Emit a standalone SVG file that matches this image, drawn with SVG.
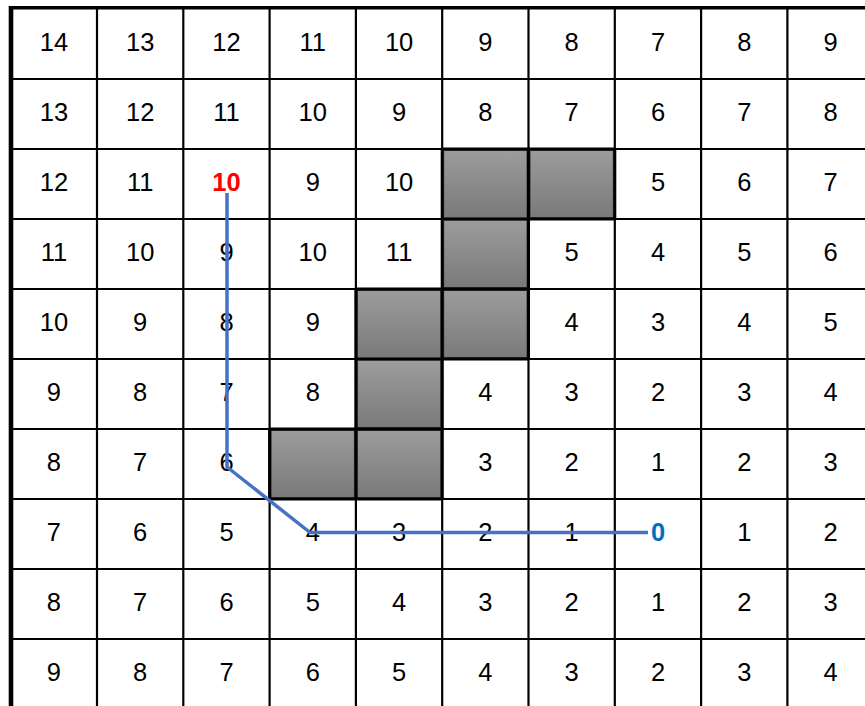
<svg xmlns="http://www.w3.org/2000/svg" width="865" height="706" viewBox="0 0 865 706">
<style>
.g{stroke:#000;stroke-width:2.2;fill:none}
.b{stroke:#000;fill:none}
.blk{fill:url(#gr);stroke:#3a3a3a;stroke-width:1}
.n{font-family:"Liberation Sans",Arial,sans-serif;font-size:25.5px;text-anchor:middle;fill:#000}
.red{fill:#FF0000;font-weight:bold}
.blue{fill:#0070C0;font-weight:bold}
.path{stroke:#4472C4;stroke-width:3.5;fill:none;stroke-linejoin:round}
</style>
<defs>
<linearGradient id="gr" x1="0" y1="0" x2="0" y2="1">
<stop offset="0" stop-color="#9c9c9c"/>
<stop offset="1" stop-color="#7a7a7a"/>
</linearGradient>
</defs>
<rect x="0" y="0" width="865" height="706" fill="#fff"/>
<g id="grid">
<path class="g" d="M97,8V706M183.3,8V706M269.6,8V706M355.9,8V706M442.2,8V706M528.5,8V706M614.8,8V706M701.1,8V706M787.4,8V706"/>
<path class="g" d="M11,79H865M11,149H865M11,219H865M11,289H865M11,359H865M11,429H865M11,499H865M11,569H865M11,639H865"/>
<path class="b" stroke-width="3.4" d="M9,7.7H865"/>
<path class="b" stroke-width="4.6" d="M11,6V706"/>
</g>
<g id="obstacles">
<rect class="blk" x="443.7" y="150.5" width="83.3" height="67"/>
<rect class="blk" x="530" y="150.5" width="83.3" height="67"/>
<rect class="blk" x="443.7" y="220.5" width="83.3" height="67"/>
<rect class="blk" x="357.4" y="290.5" width="83.3" height="67"/>
<rect class="blk" x="443.7" y="290.5" width="83.3" height="67"/>
<rect class="blk" x="357.4" y="360.5" width="83.3" height="67"/>
<rect class="blk" x="271.1" y="430.5" width="83.3" height="67"/>
<rect class="blk" x="357.4" y="430.5" width="83.3" height="67"/>
<path class="b" stroke-width="3" d="M442.2,149H614.8M442.2,149V499M528.5,149V359M614.8,149V219M528.5,219H614.8M355.9,289V499M355.9,289H528.5M269.6,429V499M269.6,429H442.2M269.6,499H442.2M442.2,359H528.5"/>
</g>
<g id="numbers" class="n">
<text x="53.9" y="51">14</text><text x="140.2" y="51">13</text><text x="226.5" y="51">12</text><text x="312.8" y="51">11</text><text x="399.1" y="51">10</text><text x="485.4" y="51">9</text><text x="571.7" y="51">8</text><text x="658" y="51">7</text><text x="744.3" y="51">8</text><text x="830.6" y="51">9</text>
<text x="53.9" y="121">13</text><text x="140.2" y="121">12</text><text x="226.5" y="121">11</text><text x="312.8" y="121">10</text><text x="399.1" y="121">9</text><text x="485.4" y="121">8</text><text x="571.7" y="121">7</text><text x="658" y="121">6</text><text x="744.3" y="121">7</text><text x="830.6" y="121">8</text>
<text x="53.9" y="191">12</text><text x="140.2" y="191">11</text><text class="red" x="226.5" y="191">10</text><text x="312.8" y="191">9</text><text x="399.1" y="191">10</text><text x="658" y="191">5</text><text x="744.3" y="191">6</text><text x="830.6" y="191">7</text>
<text x="53.9" y="261">11</text><text x="140.2" y="261">10</text><text x="226.5" y="261">9</text><text x="312.8" y="261">10</text><text x="399.1" y="261">11</text><text x="571.7" y="261">5</text><text x="658" y="261">4</text><text x="744.3" y="261">5</text><text x="830.6" y="261">6</text>
<text x="53.9" y="331">10</text><text x="140.2" y="331">9</text><text x="226.5" y="331">8</text><text x="312.8" y="331">9</text><text x="571.7" y="331">4</text><text x="658" y="331">3</text><text x="744.3" y="331">4</text><text x="830.6" y="331">5</text>
<text x="53.9" y="401">9</text><text x="140.2" y="401">8</text><text x="226.5" y="401">7</text><text x="312.8" y="401">8</text><text x="485.4" y="401">4</text><text x="571.7" y="401">3</text><text x="658" y="401">2</text><text x="744.3" y="401">3</text><text x="830.6" y="401">4</text>
<text x="53.9" y="471">8</text><text x="140.2" y="471">7</text><text x="226.5" y="471">6</text><text x="485.4" y="471">3</text><text x="571.7" y="471">2</text><text x="658" y="471">1</text><text x="744.3" y="471">2</text><text x="830.6" y="471">3</text>
<text x="53.9" y="541">7</text><text x="140.2" y="541">6</text><text x="226.5" y="541">5</text><text x="312.8" y="541">4</text><text x="399.1" y="541">3</text><text x="485.4" y="541">2</text><text x="571.7" y="541">1</text><text class="blue" x="658" y="541">0</text><text x="744.3" y="541">1</text><text x="830.6" y="541">2</text>
<text x="53.9" y="611">8</text><text x="140.2" y="611">7</text><text x="226.5" y="611">6</text><text x="312.8" y="611">5</text><text x="399.1" y="611">4</text><text x="485.4" y="611">3</text><text x="571.7" y="611">2</text><text x="658" y="611">1</text><text x="744.3" y="611">2</text><text x="830.6" y="611">3</text>
<text x="53.9" y="681">9</text><text x="140.2" y="681">8</text><text x="226.5" y="681">7</text><text x="312.8" y="681">6</text><text x="399.1" y="681">5</text><text x="485.4" y="681">4</text><text x="571.7" y="681">3</text><text x="658" y="681">2</text><text x="744.3" y="681">3</text><text x="830.6" y="681">4</text>
</g>
<g id="connectors">
<polyline class="path" points="227,193 227,467 310,532.5 648,532.5"/>
</g>
</svg>
